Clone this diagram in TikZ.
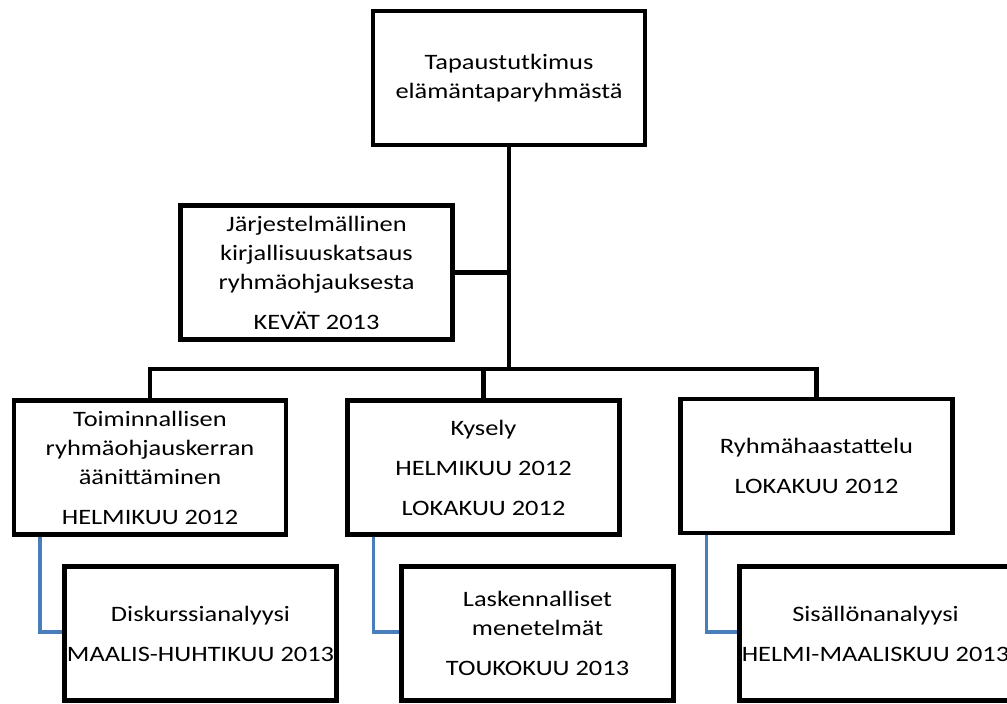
\documentclass[tikz,border=0pt]{standalone}
\usepackage{fontspec}
\setmainfont{Carlito}[FakeStretch=1.2]
\definecolor{LinkBlue}{HTML}{4A7EBB}
\usetikzlibrary{positioning, calc}
\tikzset{
  taskbox/.style={rectangle, draw=black, fill=white, line width=4.5pt, minimum width=272pt, minimum height=134pt, inner sep=0pt, align=center, font=\fontsize{22}{29}\selectfont},
  mainlink/.style={draw=black, line width=4.5pt},
  sublink/.style={draw=LinkBlue, line width=3.5pt}
}

\begin{document}
\begin{tikzpicture}[x=1pt, y=-1pt]
  \clip (0,0) rectangle (1007,704);
  \fill[white] (0,0) rectangle (1007,704);

  % Main level
  \node[taskbox] (tapaus) at (509,78) {Tapaustutkimus\\elämäntaparyhmästä};
  \node[taskbox] (kirjallisuus) at (316.5,272.5) {Järjestelmällinen\\kirjallisuuskatsaus\\ryhmäohjauksesta\\[11pt]KEVÄT 2013};
  \coordinate (jako) at (509,369);

  % Data collection
  \node[taskbox] (aanitys) at (150,467.5) {Toiminnallisen\\ryhmäohjauskerran\\äänittäminen\\[11pt]HELMIKUU 2012};
  \node[taskbox] (kysely) at (483.5,467.5) {Kysely\\[11pt]HELMIKUU 2012\\[11pt]LOKAKUU 2012};
  \node[taskbox] (haastattelu) at (816.5,466) {Ryhmähaastattelu\\[11pt]LOKAKUU 2012};

  % Analysis
  \node[taskbox] (diskurssi) at (200.5,633.5) {Diskurssianalyysi\\[11pt]MAALIS-HUHTIKUU 2013};
  \node[taskbox] (laskenta) at (537.5,633.5) {Laskennalliset\\menetelmät\\[11pt]TOUKOKUU 2013};
  \node[taskbox] (sisalto) at (875.5,633.5) {Sisällönanalyysi\\[11pt]HELMI-MAALISKUU 2013};

  % Connectors
  \draw[mainlink] (tapaus.south) -- (jako);
  \draw[mainlink] (kirjallisuus.east) -- (kirjallisuus.east -| jako);
  \draw[mainlink] (aanitys.north) |- (jako) -| (haastattelu.north);
  \draw[mainlink] (kysely.north) -- (kysely.north |- jako);

  \draw[sublink] ([xshift=28pt]aanitys.south west) |- ([yshift=1.5pt]diskurssi.west);
  \draw[sublink] ([xshift=28pt]kysely.south west) |- ([yshift=1.5pt]laskenta.west);
  \draw[sublink] ([xshift=28pt]haastattelu.south west) |- ([yshift=1.5pt]sisalto.west);
\end{tikzpicture}
\end{document}
